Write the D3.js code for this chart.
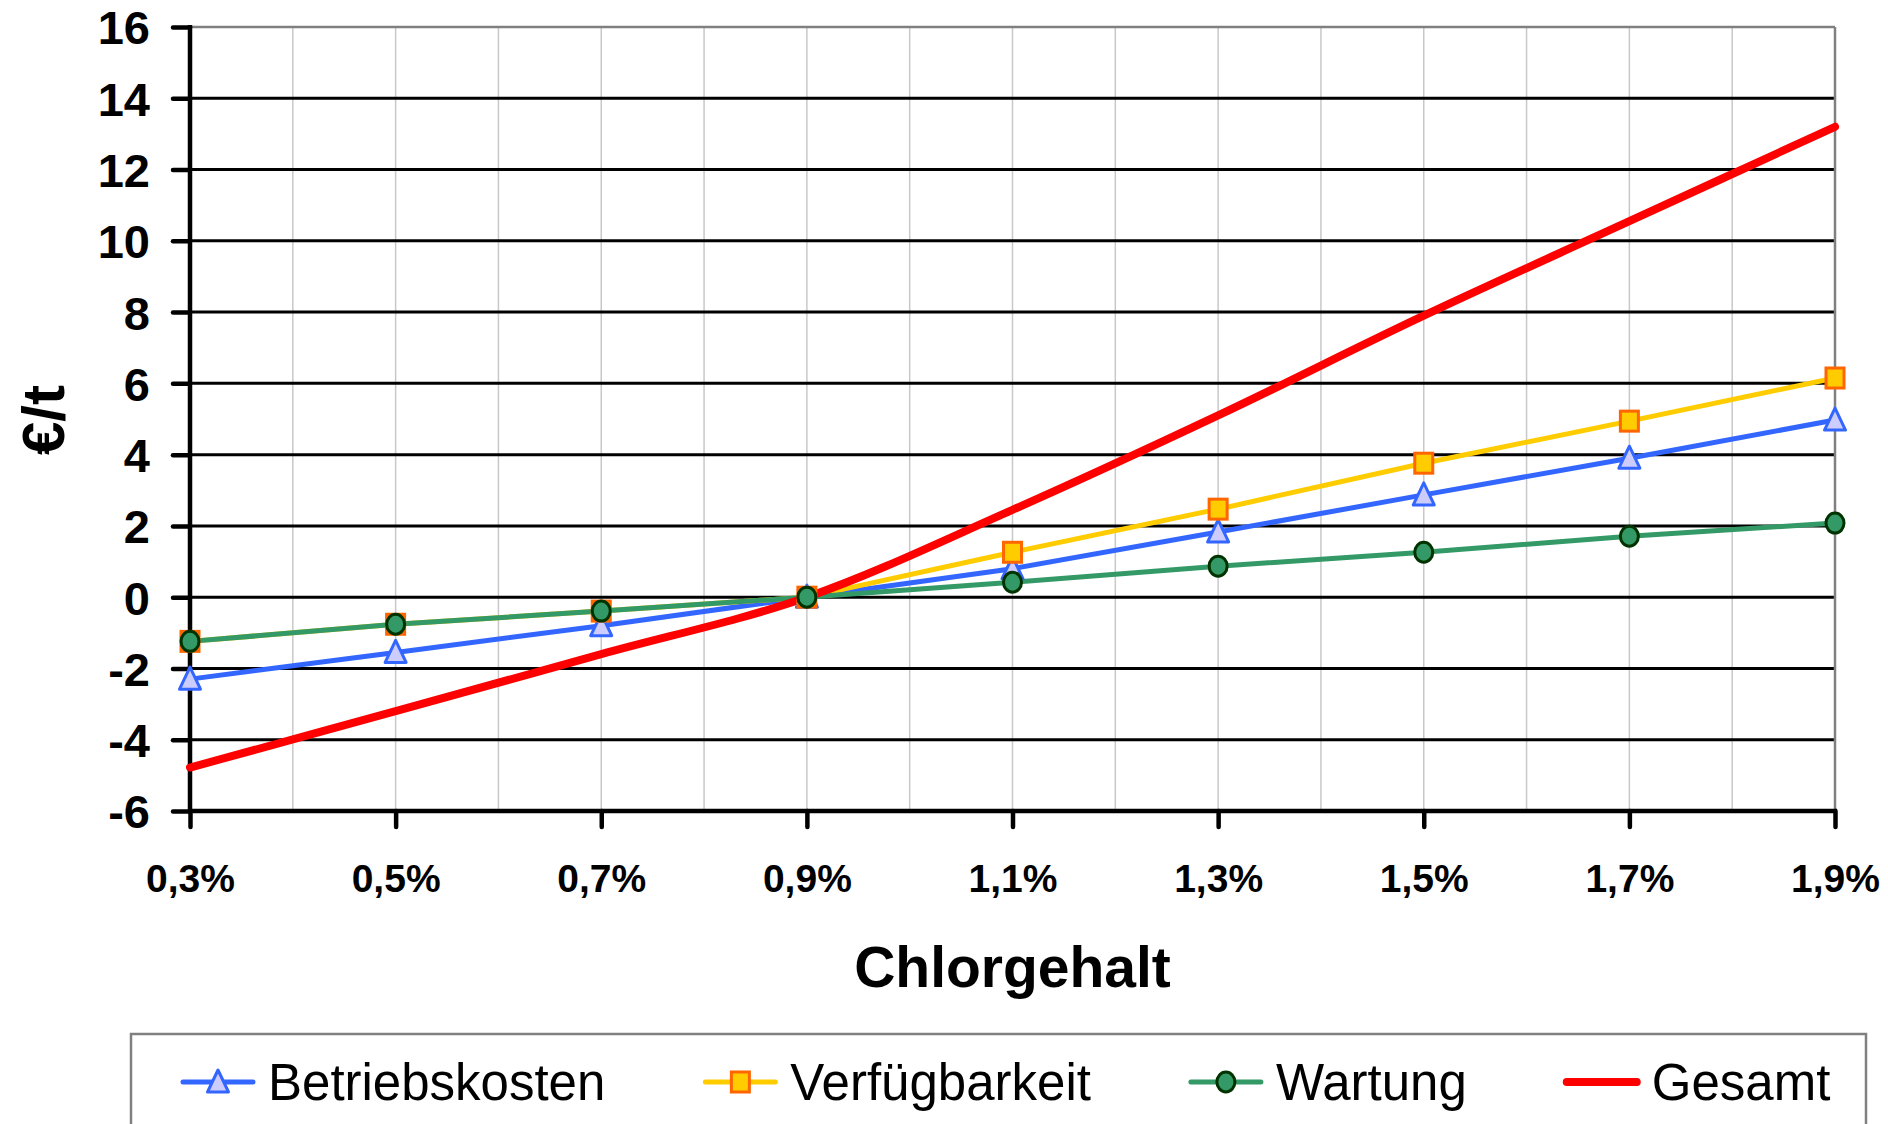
<!DOCTYPE html>
<html>
<head>
<meta charset="utf-8">
<script src="https://cdn.jsdelivr.net/npm/d3@7"></script>
<style>
  body { margin: 0; background: #fff; }
  svg { display: block; font-family: "Liberation Sans", Arial, sans-serif; }
</style>
</head>
<body>
<svg width="1888" height="1124"></svg>
<script>
// chlorine content (%) and cost change in €/t
var chlor = [0.3, 0.5, 0.7, 0.9, 1.1, 1.3, 1.5, 1.7, 1.9];
var betriebskosten = [-2.3, -1.55, -0.8, 0, 0.8, 1.83, 2.87, 3.9, 4.97];
var verfuegbarkeit = [-1.24, -0.76, -0.39, 0, 1.26, 2.47, 3.76, 4.94, 6.15];
var wartung = [-1.24, -0.76, -0.39, 0, 0.42, 0.87, 1.26, 1.71, 2.08];
var gesamt = [-4.78, -3.2, -1.6, 0, 2.45, 5.1, 7.9, 10.55, 13.2];

var yTicks = [-6, -4, -2, 0, 2, 4, 6, 8, 10, 12, 14, 16];
var xTicks = [0.3, 0.5, 0.7, 0.9, 1.1, 1.3, 1.5, 1.7, 1.9];
var xMinor = [0.4, 0.5, 0.6, 0.7, 0.8, 0.9, 1.0, 1.1, 1.2, 1.3, 1.4, 1.5, 1.6, 1.7, 1.8];

var seriesNames = ["Betriebskosten", "Verfügbarkeit", "Wartung", "Gesamt"];

var svg = d3.select("svg"),
    plotLeft = 190, plotRight = 1835, plotTop = 27, plotBottom = 811;

var x = d3.scaleLinear().domain([0.3, 1.9]).range([plotLeft, plotRight]);
var y = d3.scaleLinear().domain([-6, 16]).range([plotBottom, plotTop]);

var series = [
  {name: seriesNames[0], values: betriebskosten, color: "#3366ff", width: 5, marker: "triangle", fill: "#ccccff", stroke: "#3366ff"},
  {name: seriesNames[1], values: verfuegbarkeit, color: "#ffcc00", width: 5, marker: "square", fill: "#ffcc00", stroke: "#ff6600"},
  {name: seriesNames[2], values: wartung, color: "#339966", width: 5, marker: "circle", fill: "#339966", stroke: "#003300"},
  {name: seriesNames[3], values: gesamt, color: "#ff0000", width: 8, marker: null, smooth: true}
];

// vertical minor gridlines
svg.append("g").selectAll("line")
  .data(xMinor).enter().append("line")
    .attr("x1", function(d) { return x(d); })
    .attr("x2", function(d) { return x(d); })
    .attr("y1", plotTop).attr("y2", plotBottom)
    .attr("stroke", "#c8c8c8").attr("stroke-width", 1.5);

// horizontal gridlines
svg.append("g").selectAll("line")
  .data(yTicks.filter(function(d) { return d > -6; })).enter().append("line")
    .attr("x1", plotLeft).attr("x2", plotRight)
    .attr("y1", function(d) { return y(d); })
    .attr("y2", function(d) { return y(d); })
    .attr("stroke", function(d) { return d == 16 ? "#808080" : "#000"; })
    .attr("stroke-width", function(d) { return d == 16 ? 2.5 : 3; });

// right border of plot area
svg.append("line")
  .attr("x1", plotRight).attr("x2", plotRight).attr("y1", plotTop).attr("y2", plotBottom)
  .attr("stroke", "#808080").attr("stroke-width", 2.5);

// y axis
var yAxis = svg.append("g")
  .attr("transform", "translate(" + plotLeft + ",0)")
  .call(d3.axisLeft(y).tickValues(yTicks).tickSize(17).tickPadding(23)
    .tickFormat(function(d) { return String(d); }));
yAxis.select(".domain").remove();
yAxis.selectAll(".tick line").attr("stroke", "#000").attr("stroke-width", 4.5).attr("stroke-linecap", "round");
yAxis.selectAll(".tick text")
  .attr("font-family", "'Liberation Sans', Arial, sans-serif")
  .attr("font-size", 47).attr("font-weight", "bold").attr("fill", "#000")
  .attr("dy", "0.36em");

// x axis
var xAxis = svg.append("g")
  .attr("transform", "translate(0," + plotBottom + ")")
  .call(d3.axisBottom(x).tickValues(xTicks).tickSize(16).tickPadding(37)
    .tickFormat(function(d) { return d3.format(".1f")(d).replace(".", ",") + "%"; }));
xAxis.select(".domain").remove();
xAxis.selectAll(".tick line").attr("stroke", "#000").attr("stroke-width", 4.5).attr("stroke-linecap", "round");
xAxis.selectAll(".tick text")
  .attr("font-family", "'Liberation Sans', Arial, sans-serif")
  .attr("font-size", 39).attr("font-weight", "bold").attr("fill", "#000");

// axis lines
svg.append("line")
  .attr("x1", plotLeft).attr("x2", plotLeft).attr("y1", plotTop - 2).attr("y2", plotBottom + 2)
  .attr("stroke", "#000").attr("stroke-width", 4.5);
svg.append("line")
  .attr("x1", plotLeft - 2).attr("x2", plotRight + 2).attr("y1", plotBottom).attr("y2", plotBottom)
  .attr("stroke", "#000").attr("stroke-width", 4.5);

// lines
series.forEach(function(s) {
  var line = d3.line()
    .x(function(d, i) { return x(chlor[i]); })
    .y(function(d) { return y(d); })
    .curve(s.smooth ? d3.curveCatmullRom : d3.curveLinear);
  svg.append("path")
    .datum(s.values)
    .attr("d", line)
    .attr("fill", "none")
    .attr("stroke", s.color)
    .attr("stroke-width", s.width)
    .attr("stroke-linecap", "round")
    .attr("stroke-linejoin", "round");
});

function drawMarker(g, type, cx, cy, s) {
  if (type == "triangle") {
    g.append("path")
      .attr("d", "M" + cx + "," + (cy - 12) + "L" + (cx + 10.5) + "," + (cy + 10) + "L" + (cx - 10.5) + "," + (cy + 10) + "Z")
      .attr("fill", s.fill).attr("stroke", s.stroke).attr("stroke-width", 3).attr("stroke-linejoin", "round");
  } else if (type == "square") {
    g.append("rect")
      .attr("x", cx - 9).attr("y", cy - 10).attr("width", 18).attr("height", 20)
      .attr("fill", s.fill).attr("stroke", s.stroke).attr("stroke-width", 3);
  } else if (type == "circle") {
    g.append("ellipse")
      .attr("cx", cx).attr("cy", cy).attr("rx", 9).attr("ry", 10)
      .attr("fill", s.fill).attr("stroke", s.stroke).attr("stroke-width", 3);
  }
}

// markers
series.forEach(function(s) {
  if (!s.marker) return;
  var g = svg.append("g");
  s.values.forEach(function(v, i) {
    drawMarker(g, s.marker, x(chlor[i]), y(v), s);
  });
});

// axis titles
svg.append("text")
  .attr("x", (plotLeft + plotRight) / 2).attr("y", 987)
  .attr("text-anchor", "middle")
  .attr("font-size", 57).attr("font-weight", "bold")
  .text("Chlorgehalt");

svg.append("text")
  .attr("transform", "translate(64,420) rotate(-90)")
  .attr("text-anchor", "middle")
  .attr("font-size", 60).attr("font-weight", "bold")
  .text("€/t");

// legend
svg.append("rect")
  .attr("x", 131).attr("y", 1034).attr("width", 1735).attr("height", 120)
  .attr("fill", "#fff").attr("stroke", "#808080").attr("stroke-width", 2.5);

var lx = 183, ly = 1082;
series.forEach(function(s) {
  var g = svg.append("g");
  g.append("line")
    .attr("x1", lx).attr("x2", lx + 70).attr("y1", ly).attr("y2", ly)
    .attr("stroke", s.color).attr("stroke-width", s.width).attr("stroke-linecap", "round");
  if (s.marker) drawMarker(g, s.marker, lx + 35, ly, s);
  var t = g.append("text")
    .attr("x", lx + 85).attr("y", 1100)
    .attr("font-size", 51)
    .text(s.name);
  lx = lx + 85 + t.node().getComputedTextLength() + 100;
});
</script>
</body>
</html>
